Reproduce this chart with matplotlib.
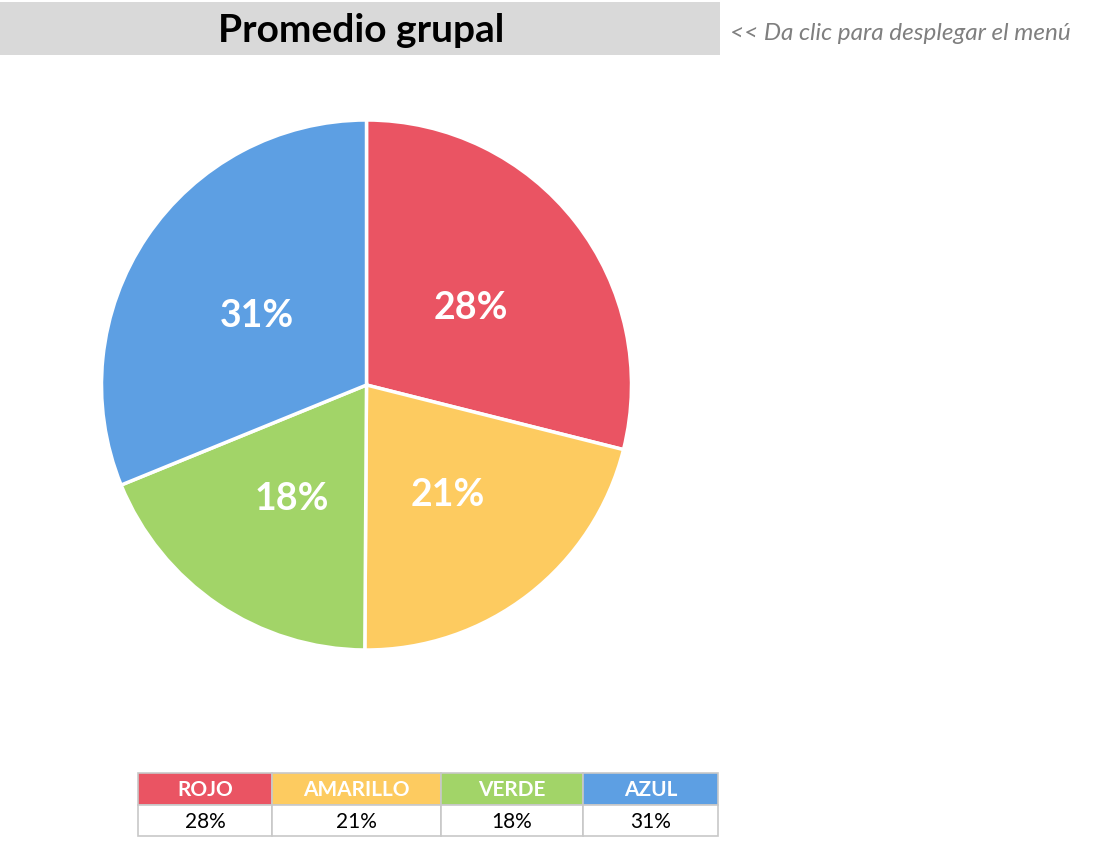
import matplotlib.pyplot as plt
from matplotlib.patches import Rectangle

categories = ["ROJO", "AMARILLO", "VERDE", "AZUL"]
# group averages (%), shown rounded in labels and table
values = [28.4, 20.8, 18.4, 30.6]
colors = ["#EA5463", "#FDCB60", "#A2D468", "#5D9FE3"]

W, H = 1093, 868
FONT = ["Lato", "DejaVu Sans"]

fig = plt.figure(figsize=(W / 100, H / 100), dpi=100)

# overlay in pixel coordinates for header + table
bg = fig.add_axes([0, 0, 1, 1])
bg.set_xlim(0, W)
bg.set_ylim(H, 0)
bg.axis("off")

bg.add_patch(Rectangle((0, 2), 720, 53, facecolor="#D9D9D9", edgecolor="none"))
bg.text(361, 31, "Promedio grupal", ha="center", va="center",
        fontsize=28, fontweight="bold", family=FONT, color="black")
bg.text(730, 34, "<< Da clic para desplegar el menú", ha="left", va="center",
        fontsize=17.5, style="italic", family=FONT, color="#7F7F7F")

# table under the pie
col_edges = [138, 272, 441, 583, 718]
head_top, head_bot, body_bot = 773, 805, 836
for i, (cat, val, col) in enumerate(zip(categories, values, colors)):
    x0, x1 = col_edges[i], col_edges[i + 1]
    bg.add_patch(Rectangle((x0, head_top), x1 - x0, head_bot - head_top,
                           facecolor=col, edgecolor="#C8C8C8", linewidth=1.2))
    bg.add_patch(Rectangle((x0, head_bot), x1 - x0, body_bot - head_bot,
                           facecolor="white", edgecolor="#C8C8C8", linewidth=1.2))
    xc = (x0 + x1) / 2
    bg.text(xc, (head_top + head_bot) / 2 + 1, cat, ha="center", va="center",
            fontsize=15, fontweight="bold", family=FONT, color="white")
    bg.text(xc, (head_bot + body_bot) / 2 + 1, f"{val:.0f}%", ha="center", va="center",
            fontsize=15, family=FONT, color="black")

# pie, centre (366.5, 385) px, radius 265 px
cx, cy, r = 366.5, 385, 265
pie_ax = fig.add_axes([(cx - r) / W, 1 - (cy + r) / H, 2 * r / W, 2 * r / H])
total = sum(values)
wedges, _, autotexts = pie_ax.pie(
    values,
    colors=colors,
    startangle=90,
    counterclock=False,
    radius=1,
    pctdistance=0.5,
    autopct=lambda p: f"{p * total / 100:.0f}%",
    wedgeprops=dict(edgecolor="white", linewidth=2.5),
    textprops=dict(color="white", fontsize=27, fontweight="bold", family=FONT),
)
# excel sits the labels a little lower
for t in autotexts:
    x, y = t.get_position()
    t.set_position((x, y - 0.018))
pie_ax.set_xlim(-1.0, 1.0)
pie_ax.set_ylim(-1.0, 1.0)
pie_ax.set_aspect("equal")
pie_ax.axis("off")

fig.savefig("out.png", dpi=100)
